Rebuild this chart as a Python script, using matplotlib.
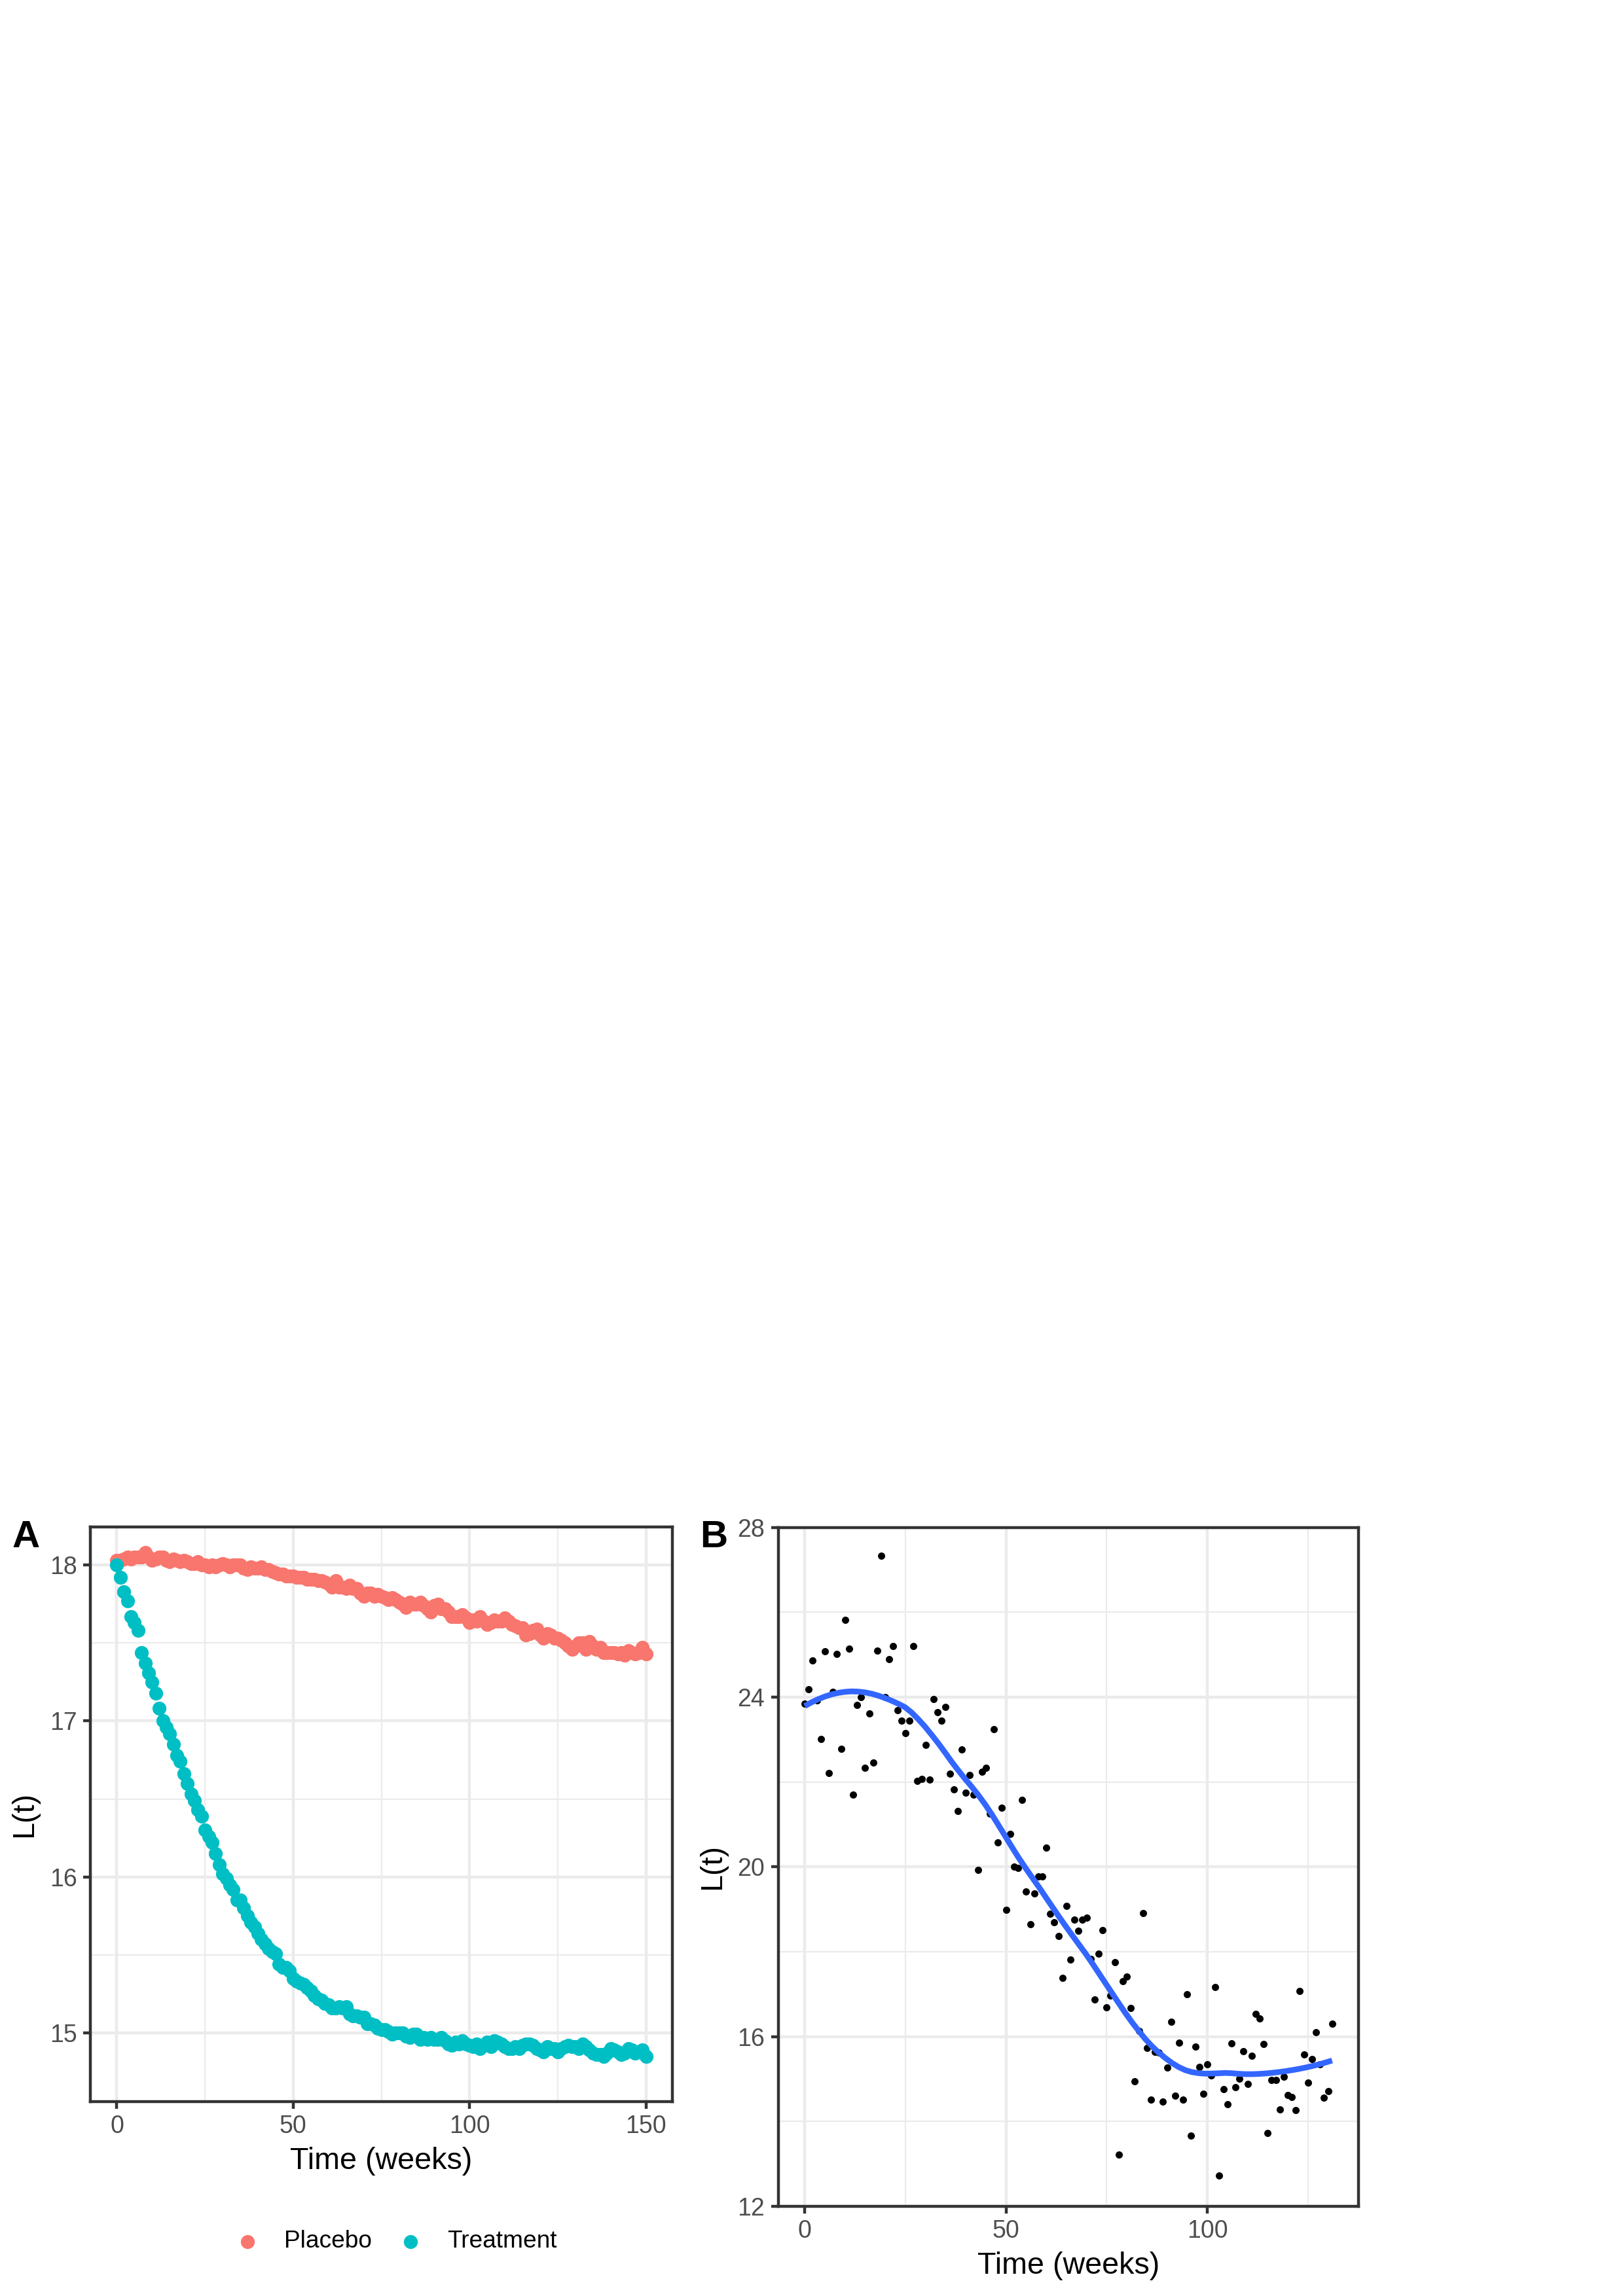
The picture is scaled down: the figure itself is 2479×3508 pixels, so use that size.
import matplotlib
matplotlib.use("Agg")
import matplotlib.pyplot as plt
import numpy as np

plt.rcParams['font.family'] = ['Liberation Sans', 'DejaVu Sans']

# ---- data: panel A (simulated means, weekly) ----
weeks_a = list(range(0, 151))
placebo = [
    18.03, 18.03, 18.04, 18.05, 18.04, 18.05, 18.05, 18.05, 18.08, 18.05,
    18.03, 18.04, 18.05, 18.05, 18.03, 18.02, 18.04, 18.03, 18.02, 18.03,
    18.02, 18.01, 18.01, 18.02, 18.00, 18.00, 17.99, 18.00, 17.99, 18.00,
    18.01, 18.00, 17.99, 18.00, 18.00, 18.00, 17.98, 17.97, 17.99, 17.98,
    17.98, 17.99, 17.97, 17.97, 17.96, 17.95, 17.94, 17.94, 17.93, 17.93,
    17.93, 17.92, 17.92, 17.92, 17.91, 17.91, 17.91, 17.90, 17.90, 17.89,
    17.88, 17.86, 17.90, 17.86, 17.86, 17.85, 17.87, 17.85, 17.85, 17.82,
    17.80, 17.82, 17.82, 17.80, 17.81, 17.80, 17.79, 17.78, 17.79, 17.78,
    17.76, 17.75, 17.73, 17.76, 17.75, 17.75, 17.76, 17.74, 17.72, 17.70,
    17.74, 17.75, 17.72, 17.72, 17.70, 17.67, 17.67, 17.67, 17.68, 17.66,
    17.63, 17.65, 17.64, 17.67, 17.64, 17.62, 17.63, 17.65, 17.64, 17.64,
    17.66, 17.64, 17.62, 17.61, 17.60, 17.60, 17.55, 17.56, 17.58, 17.59,
    17.55, 17.53, 17.56, 17.55, 17.53, 17.53, 17.52, 17.50, 17.48, 17.46,
    17.48, 17.50, 17.50, 17.46, 17.51, 17.48, 17.46, 17.47, 17.44, 17.44,
    17.44, 17.44, 17.43, 17.44, 17.42, 17.45, 17.44, 17.43, 17.44, 17.47,
    17.43,
]
treatment = [
    18.00, 17.92, 17.83, 17.77, 17.67, 17.63, 17.58, 17.44, 17.37, 17.31,
    17.25, 17.18, 17.08, 17.00, 16.96, 16.92, 16.85, 16.78, 16.74, 16.66,
    16.60, 16.53, 16.49, 16.43, 16.39, 16.30, 16.26, 16.22, 16.15, 16.08,
    16.02, 15.99, 15.95, 15.92, 15.85, 15.85, 15.80, 15.75, 15.71, 15.68,
    15.64, 15.60, 15.57, 15.54, 15.52, 15.51, 15.44, 15.42, 15.42, 15.40,
    15.35, 15.33, 15.32, 15.31, 15.29, 15.27, 15.24, 15.22, 15.21, 15.19,
    15.18, 15.16, 15.16, 15.17, 15.16, 15.17, 15.12, 15.11, 15.11, 15.10,
    15.10, 15.06, 15.06, 15.05, 15.03, 15.02, 15.02, 15.01, 14.99, 15.00,
    15.00, 15.00, 14.98, 14.97, 14.99, 14.99, 14.96, 14.97, 14.96, 14.97,
    14.96, 14.96, 14.97, 14.95, 14.93, 14.92, 14.94, 14.93, 14.95, 14.93,
    14.92, 14.91, 14.93, 14.90, 14.92, 14.94, 14.91, 14.95, 14.94, 14.93,
    14.91, 14.90, 14.90, 14.91, 14.90, 14.92, 14.93, 14.93, 14.92, 14.90,
    14.89, 14.88, 14.91, 14.90, 14.90, 14.88, 14.90, 14.91, 14.92, 14.91,
    14.91, 14.90, 14.93, 14.91, 14.89, 14.87, 14.86, 14.86, 14.85, 14.87,
    14.90, 14.89, 14.88, 14.86, 14.87, 14.90, 14.89, 14.87, 14.88, 14.89,
    14.85,
]
groups = ["Placebo", "Treatment"]
group_colors = ["#F8766D", "#00BFC4"]

# ---- data: panel B (observed, weekly) ----
weeks_b = list(range(0, 132))
observed = [
    23.85, 24.18, 24.87, 23.93, 23.02, 25.08, 22.21, 24.13, 25.02, 22.78,
    25.83, 25.14, 21.70, 23.81, 24.00, 22.33, 23.62, 22.46, 25.09, 27.33,
    24.00, 24.89, 25.21, 23.69, 23.44, 23.16, 23.44, 25.21, 22.02, 22.08,
    22.88, 22.05, 23.96, 23.64, 23.44, 23.77, 22.20, 21.83, 21.31, 22.77,
    21.75, 22.16, 21.70, 19.93, 22.24, 22.33, 21.26, 23.25, 20.57, 21.40,
    18.99, 20.77, 20.01, 19.97, 21.58, 19.42, 18.65, 19.37, 19.78, 19.78,
    20.46, 18.90, 18.69, 18.37, 17.38, 19.08, 17.82, 18.76, 18.50, 18.76,
    18.80, 17.83, 16.87, 17.95, 18.51, 16.69, 16.97, 17.75, 13.22, 17.31,
    17.42, 16.67, 14.95, 16.14, 18.91, 15.73, 14.52, 15.64, 15.63, 14.47,
    15.27, 16.35, 14.61, 15.85, 14.52, 17.00, 13.66, 15.76, 15.28, 14.65,
    15.34, 15.09, 17.16, 12.72, 14.76, 14.40, 15.84, 14.81, 15.01, 15.66,
    14.88, 15.55, 16.53, 16.42, 15.82, 13.72, 14.98, 14.98, 14.28, 15.06,
    14.62, 14.58, 14.26, 17.07, 15.58, 14.91, 15.47, 16.10, 15.34, 14.56,
    14.72, 16.31,
]


def loess(x, y, xs, span=0.4):
    # local quadratic fit with tricube weights
    x = np.asarray(x, float)
    y = np.asarray(y, float)
    q = int(np.floor(len(x) * span))
    fit = []
    for x0 in xs:
        d = np.abs(x - x0)
        h = np.sort(d)[q - 1]
        w = np.clip(1 - (d / h) ** 3, 0, None) ** 3
        X = np.vstack([np.ones_like(x), x - x0, (x - x0) ** 2]).T
        sw = np.sqrt(w)
        beta = np.linalg.lstsq(X * sw[:, None], y * sw, rcond=None)[0]
        fit.append(beta[0])
    return np.array(fit)


tick_col = "#333333"
lab_col = "#4D4D4D"
grid_col = "#EBEBEB"


def style_axes(ax):
    ax.set_axisbelow(True)
    ax.grid(which='major', color=grid_col, linewidth=1.07)
    ax.grid(which='minor', color=grid_col, linewidth=0.53)
    for s in ax.spines.values():
        s.set_color(tick_col)
        s.set_linewidth(1.07)
    ax.tick_params(which='major', length=2.75, width=1.07, color=tick_col,
                   labelcolor=lab_col, labelsize=9, pad=2.2)
    ax.tick_params(which='minor', length=0)


fig = plt.figure(figsize=(2479 / 300, 3508 / 300), dpi=300)

# ---- panel A ----
axA = fig.add_axes([0.0557, 0.0847, 0.3586, 0.2503])
handles = []
for name, vals, col in zip(groups, [placebo, treatment], group_colors):
    h = axA.scatter(weeks_a, vals, s=26, color=col, linewidths=0, label=name, zorder=3)
    handles.append(h)
axA.set_xlim(-7.5, 157.5)
axA.set_ylim(14.56, 18.245)
axA.set_xticks([0, 50, 100, 150])
axA.set_xticks([25, 75, 125], minor=True)
axA.set_yticks([15, 16, 17, 18])
axA.set_yticks([15.5, 16.5, 17.5], minor=True)
style_axes(axA)
axA.set_xlabel("Time (weeks)", fontsize=11.2, labelpad=3)
axA.set_ylabel("L(t)", fontsize=11.2, labelpad=4)

# ---- panel B ----
axB = fig.add_axes([0.4796, 0.0391, 0.3574, 0.2956])
axB.scatter(weeks_b, observed, s=7, color="black", linewidths=0, zorder=3)
xs = np.linspace(min(weeks_b), max(weeks_b), 80)
axB.plot(xs, loess(weeks_b, observed, xs), color="#3366FF", linewidth=2.1, zorder=4,
         solid_capstyle='butt')
axB.set_xlim(-6.55, 137.55)
axB.set_ylim(12, 28)
axB.set_xticks([0, 50, 100])
axB.set_xticks([25, 75, 125], minor=True)
axB.set_yticks([12, 16, 20, 24, 28])
axB.set_yticks([14, 18, 22, 26], minor=True)
style_axes(axB)
axB.set_xlabel("Time (weeks)", fontsize=11.2, labelpad=3)
axB.set_ylabel("L(t)", fontsize=11.2, labelpad=4)

# ---- legend and panel tags ----
fig.legend(handles=handles, labels=groups, loc='center',
           bbox_to_anchor=(605 / 2479, 1 - 3425 / 3508), ncol=2, frameon=False,
           fontsize=8.9, handlelength=1.0, handletextpad=1.0, columnspacing=1.12,
           markerscale=1.0)
fig.text(40 / 2479, 1 - 2349 / 3508, "A", fontsize=14, fontweight='bold',
         ha='center', va='center')
fig.text(1090 / 2479, 1 - 2349 / 3508, "B", fontsize=14, fontweight='bold',
         ha='center', va='center')

fig.savefig("out.png", dpi=300, facecolor="white")
